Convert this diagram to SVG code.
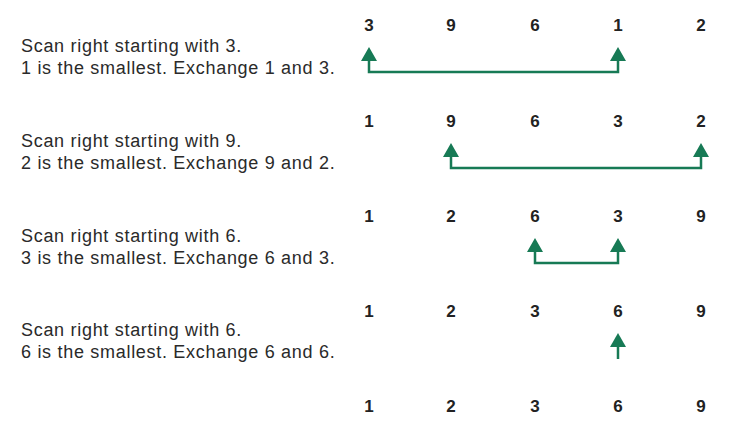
<svg xmlns="http://www.w3.org/2000/svg" width="729" height="423" viewBox="0 0 729 423">
<style>
.lbl{font-family:"Liberation Sans",Arial,sans-serif;font-size:18px;letter-spacing:0.7px;fill:#2a2a2a}
.num{font-family:"Liberation Sans",Arial,sans-serif;font-size:17px;font-weight:bold;fill:#222;text-anchor:middle}
.ln{fill:none;stroke:#177a55;stroke-width:2.5}
</style>
<rect width="729" height="423" fill="#fff"/>
<g id="step1">
<text class="lbl" x="21" y="52">Scan right starting with 3.</text>
<text class="lbl" x="21" y="74">1 is the smallest. Exchange 1 and 3.</text>
<text class="num" x="369" y="31">3</text><text class="num" x="451" y="31">9</text><text class="num" x="535" y="31">6</text><text class="num" x="618" y="31">1</text><text class="num" x="701" y="31">2</text>
</g>
<g id="step2">
<text class="lbl" x="21" y="147">Scan right starting with 9.</text>
<text class="lbl" x="21" y="169">2 is the smallest. Exchange 9 and 2.</text>
<text class="num" x="369" y="127">1</text><text class="num" x="451" y="127">9</text><text class="num" x="535" y="127">6</text><text class="num" x="618" y="127">3</text><text class="num" x="701" y="127">2</text>
</g>
<g id="step3">
<text class="lbl" x="21" y="242">Scan right starting with 6.</text>
<text class="lbl" x="21" y="264">3 is the smallest. Exchange 6 and 3.</text>
<text class="num" x="369" y="222">1</text><text class="num" x="451" y="222">2</text><text class="num" x="535" y="222">6</text><text class="num" x="618" y="222">3</text><text class="num" x="701" y="222">9</text>
</g>
<g id="step4">
<text class="lbl" x="21" y="336">Scan right starting with 6.</text>
<text class="lbl" x="21" y="358">6 is the smallest. Exchange 6 and 6.</text>
<text class="num" x="369" y="317">1</text><text class="num" x="451" y="317">2</text><text class="num" x="535" y="317">3</text><text class="num" x="618" y="317">6</text><text class="num" x="701" y="317">9</text>
</g>
<g id="result">
<text class="num" x="369" y="412">1</text><text class="num" x="451" y="412">2</text><text class="num" x="535" y="412">3</text><text class="num" x="618" y="412">6</text><text class="num" x="701" y="412">9</text>
</g>
<g id="connectors" fill="#177a55">
<path class="ln" d="M369,58 V72 H618 V58"/>
<path d="M361,61 L369,47 L377,61 z M610,61 L618,47 L626,61 z"/>
<path class="ln" d="M451,154 V168 H701 V154"/>
<path d="M443,157 L451,143 L459,157 z M693,157 L701,143 L709,157 z"/>
<path class="ln" d="M535,249 V263 H618 V249"/>
<path d="M527,252 L535,238 L543,252 z M610,252 L618,238 L626,252 z"/>
<path class="ln" d="M618,344 V359"/>
<path d="M610,347 L618,333 L626,347 z"/>
</g>
</svg>
